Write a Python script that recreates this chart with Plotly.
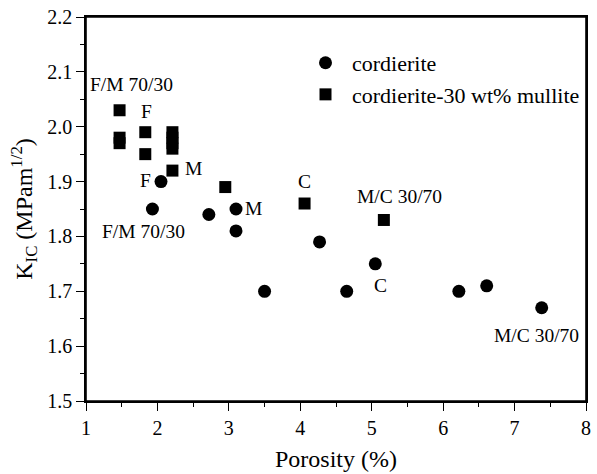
import plotly.graph_objects as go

# Data
cord_x = [1.93, 2.05, 2.72, 3.10, 3.10, 3.50, 4.27, 4.65, 5.05, 6.22, 6.61, 7.38]
cord_y = [1.85, 1.90, 1.84, 1.85, 1.81, 1.70, 1.79, 1.70, 1.75, 1.70, 1.71, 1.67]

mull_x = [1.47, 1.47, 1.47, 1.83, 1.83, 2.21, 2.21, 2.21, 2.21, 2.21, 2.95, 4.06, 5.17]
mull_y = [2.03, 1.98, 1.97, 1.99, 1.95, 1.99, 1.98, 1.97, 1.96, 1.92, 1.89, 1.86, 1.83]

label_text = ["F/M 70/30", "F", "M", "F", "F/M 70/30", "M", "C", "M/C 30/70", "C", "M/C 30/70"]
label_x = [1.64, 1.84, 2.50, 1.83, 1.80, 3.35, 4.06, 5.39, 5.12, 7.31]
label_y = [2.077, 2.028, 1.924, 1.902, 1.809, 1.851, 1.900, 1.872, 1.711, 1.620]

x_ticks = [1, 2, 3, 4, 5, 6, 7, 8]
y_ticks = [1.5, 1.6, 1.7, 1.8, 1.9, 2.0, 2.1, 2.2]
y_tick_labels = ["1.5", "1.6", "1.7", "1.8", "1.9", "2.0", "2.1", "2.2"]

FONT = "Liberation Serif"

fig = go.Figure()
fig.add_trace(go.Scatter(
    x=cord_x, y=cord_y, mode="markers", name="cordierite",
    marker=dict(symbol="circle", size=13, color="black"),
))
fig.add_trace(go.Scatter(
    x=mull_x, y=mull_y, mode="markers", name="cordierite-30 wt% mullite",
    marker=dict(symbol="square", size=12, color="black"),
))

for t, x, y in zip(label_text, label_x, label_y):
    fig.add_annotation(x=x, y=y, text=t, showarrow=False,
                       font=dict(family=FONT, size=19.5, color="black"))

# plot frame
fig.add_shape(type="rect", xref="paper", yref="paper", x0=0, y0=0, x1=1, y1=1,
              line=dict(color="black", width=1.6), fillcolor="rgba(0,0,0,0)", layer="above")

axis_common = dict(
    showline=True, linecolor="black", linewidth=1.6, mirror=True,
    ticks="outside", ticklen=8, tickwidth=1.3, tickcolor="black",
    showgrid=False, zeroline=False,
    tickfont=dict(family=FONT, size=20, color="black"),
)

fig.update_xaxes(
    range=[1, 8], tickvals=x_ticks,
    minor=dict(ticks="outside", ticklen=4, tickwidth=1.2, tickcolor="black", dtick=0.5, showgrid=False),
    title=dict(text="Porosity (%)", font=dict(family=FONT, size=24, color="black"), standoff=12),
    **axis_common,
)
fig.update_yaxes(
    range=[1.5, 2.2], tickvals=y_ticks, ticktext=y_tick_labels,
    minor=dict(ticks="outside", ticklen=4, tickwidth=1.2, tickcolor="black", dtick=0.05, showgrid=False),
    title=dict(text="K<sub>IC</sub> (MPam<sup>1/2</sup>)", font=dict(family=FONT, size=24, color="black"), standoff=8),
    **axis_common,
)

fig.update_layout(
    width=597, height=474,
    margin=dict(l=86, r=6, t=17, b=72),
    plot_bgcolor="white", paper_bgcolor="white",
    font=dict(family=FONT, color="black"),
    legend=dict(x=0.426, y=0.935, xanchor="left", yanchor="top",
                bgcolor="rgba(0,0,0,0)", borderwidth=0,
                font=dict(family=FONT, size=22, color="black"),
                itemwidth=43, tracegroupgap=0),
)

fig.write_html("out.html", config={"displayModeBar": False},
               post_script="document.body.style.margin='0';document.body.style.padding='0';document.body.style.overflow='hidden';")
